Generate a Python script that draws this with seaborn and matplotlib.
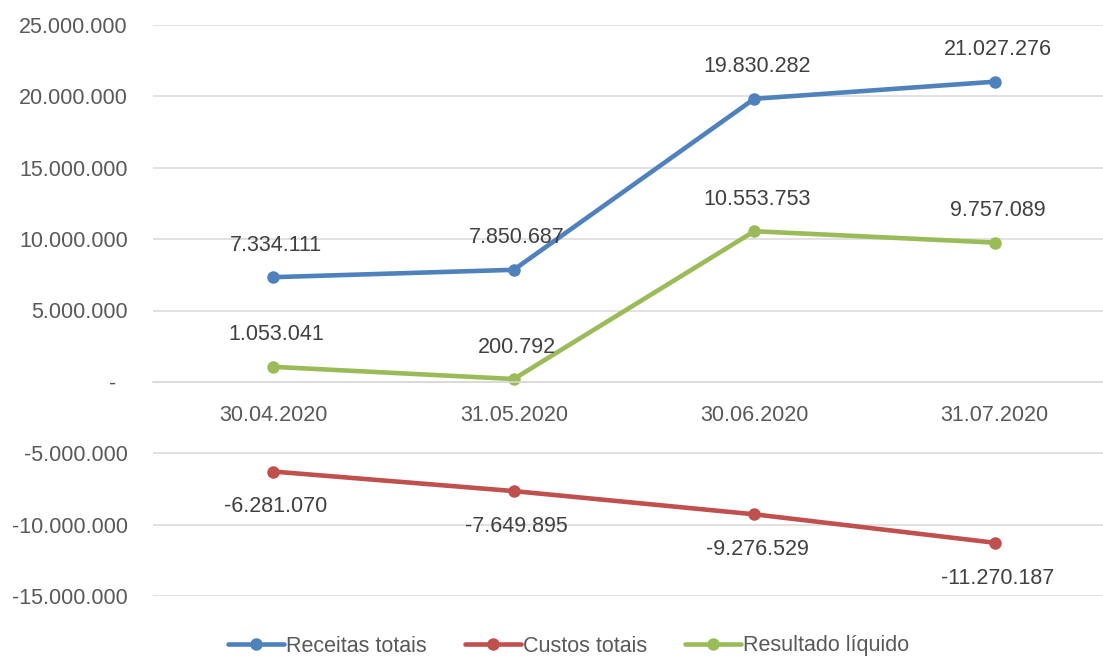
import matplotlib

matplotlib.use("Agg")
import matplotlib.pyplot as plt
import pandas as pd
import seaborn as sns
from matplotlib.lines import Line2D
from matplotlib.ticker import FixedLocator, FuncFormatter

# data
datas = ["30.04.2020", "31.05.2020", "30.06.2020", "31.07.2020"]
receitas = [7334111, 7850687, 19830282, 21027276]
custos = [-6281070, -7649895, -9276529, -11270187]
resultado = [1053041, 200792, 10553753, 9757089]
series_names = ["Receitas totais", "Custos totais", "Resultado líquido"]
colors = ["#4F81BD", "#C0504D", "#9BBB59"]
y_ticks = [-15000000, -10000000, -5000000, 0, 5000000, 10000000, 15000000, 20000000, 25000000]


def fmt_pt(v):
    """Excel-style number with '.' as thousands separator, '-' for zero."""
    if v == 0:
        return "-  "
    return f"{int(v):,}".replace(",", ".")


sns.set_theme(style="white")
plt.rcParams["font.family"] = ["Liberation Sans", "DejaVu Sans"]

df = pd.DataFrame({
    "data": datas * 3,
    "valor": receitas + custos + resultado,
    "serie": [s for s in series_names for _ in datas],
})
df["pos"] = df["data"].map({d: i for i, d in enumerate(datas)})

fig = plt.figure(figsize=(11.03, 6.59), dpi=100)
ax = fig.add_axes([153 / 1103, 1 - 596 / 659, 962 / 1103, 571 / 659])

sns.lineplot(
    data=df, x="pos", y="valor", hue="serie", hue_order=series_names,
    palette=colors, marker="o", markersize=9, markeredgewidth=0,
    linewidth=3.3, sort=False, legend=False, ax=ax,
)

# data labels: above for the positive series, below for costs
label_color = "#404040"
for vals, above in [(receitas, True), (custos, False), (resultado, True)]:
    for i, v in enumerate(vals):
        ax.annotate(
            fmt_pt(v), (i, v), xytext=(2, 23 if above else -25.5),
            textcoords="offset points", ha="center", va="center",
            fontsize=15.5, color=label_color,
        )

ax.set_xlim(-0.5, 3.5)
ax.set_ylim(-15000000, 25000000)
ax.yaxis.set_major_locator(FixedLocator(y_ticks))
ax.yaxis.set_major_formatter(FuncFormatter(lambda v, _: fmt_pt(v)))
ax.grid(axis="y", color="#D9D9D9", linewidth=1.1)
ax.grid(axis="x", visible=False)
ax.set_axisbelow(True)

for side in ["top", "right", "left"]:
    ax.spines[side].set_visible(False)
ax.spines["bottom"].set_position(("data", 0))
ax.spines["bottom"].set_color("#D9D9D9")
ax.spines["bottom"].set_linewidth(1.1)

# category boundaries as major ticks, labels on minor ticks
ax.set_xticks([-0.5, 0.5, 1.5, 2.5, 3.5])
ax.set_xticklabels([])
ax.set_xticks(range(len(datas)), minor=True)
ax.set_xticklabels(datas, minor=True)
ax.tick_params(axis="x", which="major", length=7, width=1.1, color="#D9D9D9", direction="out")
ax.tick_params(axis="x", which="minor", length=0, pad=17, labelsize=15.5, labelcolor="#595959")
ax.tick_params(axis="y", length=0, pad=18, labelsize=15.5, labelcolor="#595959")
ax.set_xlabel("")
ax.set_ylabel("")

handles = [
    Line2D([], [], color=c, linewidth=3.3, marker="o", markersize=9, markeredgewidth=0)
    for c in colors
]
fig.legend(
    handles, series_names, loc="center", bbox_to_anchor=(0.5154, 1 - 646 / 659),
    ncol=3, frameon=False, handlelength=2.6, handletextpad=0.1, columnspacing=1.75,
    prop={"size": 15.5}, labelcolor="#595959",
)

fig.savefig("out.png", dpi=100)
